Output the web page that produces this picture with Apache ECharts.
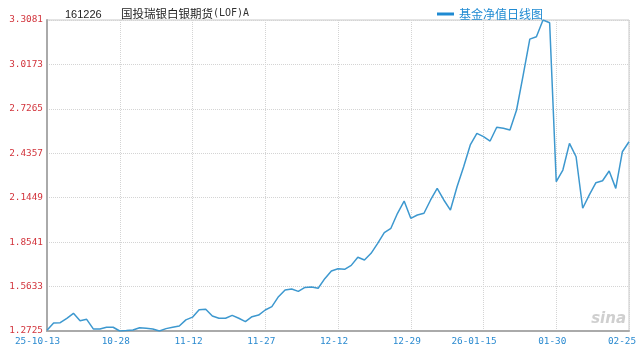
<!DOCTYPE html>
<html>
<head>
<meta charset="utf-8">
<script src="https://cdn.jsdelivr.net/npm/echarts@6/dist/echarts.min.js"></script>
<style>html,body{margin:0;padding:0;background:#fff}#c{width:640px;height:349px}</style>
</head>
<body>
<div id="c"></div>
<script>
const fundCode = '161226';
const fundName = '国投瑞银白银期货';
const fundSuffix = '(LOF)A';
const seriesName = '基金净值日线图';
const dates = [
 '2025-10-13','2025-10-14','2025-10-15','2025-10-16','2025-10-17','2025-10-20','2025-10-21','2025-10-22','2025-10-23','2025-10-24',
 '2025-10-27','2025-10-28','2025-10-29','2025-10-30','2025-10-31','2025-11-03','2025-11-04','2025-11-05','2025-11-06','2025-11-07',
 '2025-11-10','2025-11-11','2025-11-12','2025-11-13','2025-11-14','2025-11-17','2025-11-18','2025-11-19','2025-11-20','2025-11-21',
 '2025-11-24','2025-11-25','2025-11-26','2025-11-27','2025-11-28','2025-12-01','2025-12-02','2025-12-03','2025-12-04','2025-12-05',
 '2025-12-08','2025-12-09','2025-12-10','2025-12-11','2025-12-12','2025-12-15','2025-12-16','2025-12-17','2025-12-18','2025-12-19',
 '2025-12-22','2025-12-23','2025-12-24','2025-12-25','2025-12-26','2025-12-29','2025-12-30','2025-12-31','2026-01-05','2026-01-06',
 '2026-01-07','2026-01-08','2026-01-09','2026-01-12','2026-01-13','2026-01-14','2026-01-15','2026-01-16','2026-01-19','2026-01-20',
 '2026-01-21','2026-01-22','2026-01-23','2026-01-26','2026-01-27','2026-01-28','2026-01-29','2026-01-30','2026-02-02','2026-02-03',
 '2026-02-04','2026-02-05','2026-02-06','2026-02-09','2026-02-10','2026-02-11','2026-02-12','2026-02-13','2026-02-25'
];
const nav = [
 1.278,1.325,1.327,1.355,1.388,1.340,1.349,1.286,1.286,1.297,
 1.297,1.2725,1.275,1.279,1.294,1.290,1.286,1.2725,1.288,1.297,
 1.305,1.345,1.363,1.412,1.415,1.371,1.356,1.356,1.375,1.356,
 1.334,1.366,1.377,1.410,1.432,1.497,1.541,1.547,1.532,1.558,
 1.560,1.552,1.615,1.665,1.680,1.676,1.702,1.755,1.737,1.781,
 1.846,1.916,1.945,2.043,2.123,2.010,2.032,2.043,2.130,2.206,
 2.130,2.064,2.217,2.348,2.490,2.566,2.545,2.516,2.606,2.599,
 2.588,2.719,2.948,3.183,3.198,3.3081,3.290,2.250,2.326,2.501,
 2.413,2.076,2.163,2.243,2.256,2.320,2.206,2.446,2.511
];
const yTicks = [1.2725,1.5633,1.8541,2.1449,2.4357,2.7265,3.0173,3.3081];

const chart = echarts.init(document.getElementById('c'), null, {renderer:'canvas'});
const mono = 'DejaVu Sans Mono';
chart.setOption({
  animation: false,
  backgroundColor: '#fff',
  title: [
    {text: fundCode, left: 60, top: 4, textStyle:{fontFamily:'Liberation Sans', fontSize:11, fontWeight:'normal', color:'#222'}},
    {text: '{a|' + fundName + '}{b|' + fundSuffix + '}', left: 116, top: 3,
     textStyle:{fontWeight:'normal', rich:{
       a:{fontFamily:'Noto Sans CJK SC', fontSize:11.5, fontWeight:'normal', color:'#222'},
       b:{fontFamily:mono, fontSize:10, fontWeight:'normal', color:'#333'}
     }}}
  ],
  legend: {
    data:[seriesName], left: 432, top: 3, icon:'rect', itemWidth:17, itemHeight:3,
    textStyle:{fontFamily:'Noto Sans CJK SC', fontSize:12, color:'#1f8ad2'}
  },
  grid: {left:47, right:11, top:20, bottom:18, show:true, borderColor:'#c8c8c8', borderWidth:1},
  xAxis: {
    type:'category', data: dates, boundaryGap:false,
    axisLine:{lineStyle:{color:'#aaaaaa', width:2}},
    axisTick:{show:false},
    splitLine:{show:true, interval:10, lineStyle:{color:'#d4d4d4', type:'dotted', width:1}},
    axisLabel:{
      interval:10, margin:6, color:'#2a8ad0', fontFamily:mono, fontSize:9.4,
      formatter:function(v, idx){
        const prev = dates[idx-11];
        if (!prev || prev.slice(0,4) !== v.slice(0,4)) return '{l|' + v.slice(2) + '}';
        if (idx === dates.length-1) return '{e|' + v.slice(5) + '}';
        return '{s|' + v.slice(5) + '}';
      },
      rich:{
        l:{fontFamily:mono, fontSize:9.4, color:'#2a8ad0', padding:[0,19,0,0]},
        s:{fontFamily:mono, fontSize:9.4, color:'#2a8ad0', padding:[0,8,0,0]},
        e:{fontFamily:mono, fontSize:9.4, color:'#2a8ad0', padding:[0,14,0,0]}
      }
    }
  },
  yAxis: {
    type:'value', min: yTicks[0], max: yTicks[yTicks.length-1], interval: yTicks[1]-yTicks[0],
    axisLine:{show:true, lineStyle:{color:'#aaaaaa', width:2}},
    axisTick:{show:false},
    splitLine:{show:true, lineStyle:{color:'#d4d4d4', type:'dotted', width:1}},
    axisLabel:{margin:4, color:'#d2343c', fontFamily:mono, fontSize:9.4,
      formatter:function(v){ return v.toFixed(4); }}
  },
  graphic: [
    {type:'text', right: 14, bottom: 22, style:{text:'sina', fontFamily:'DejaVu Sans', fontStyle:'italic', fontWeight:'bold', fontSize:15, fill:'#cfcfcf'}}
  ],
  series: [{
    name: seriesName, type:'line', data: nav, showSymbol:false, symbol:'none',
    lineStyle:{color:'#3d98cf', width:1.5}, itemStyle:{color:'#1f8ad2'}
  }]
});
</script>
</body>
</html>
